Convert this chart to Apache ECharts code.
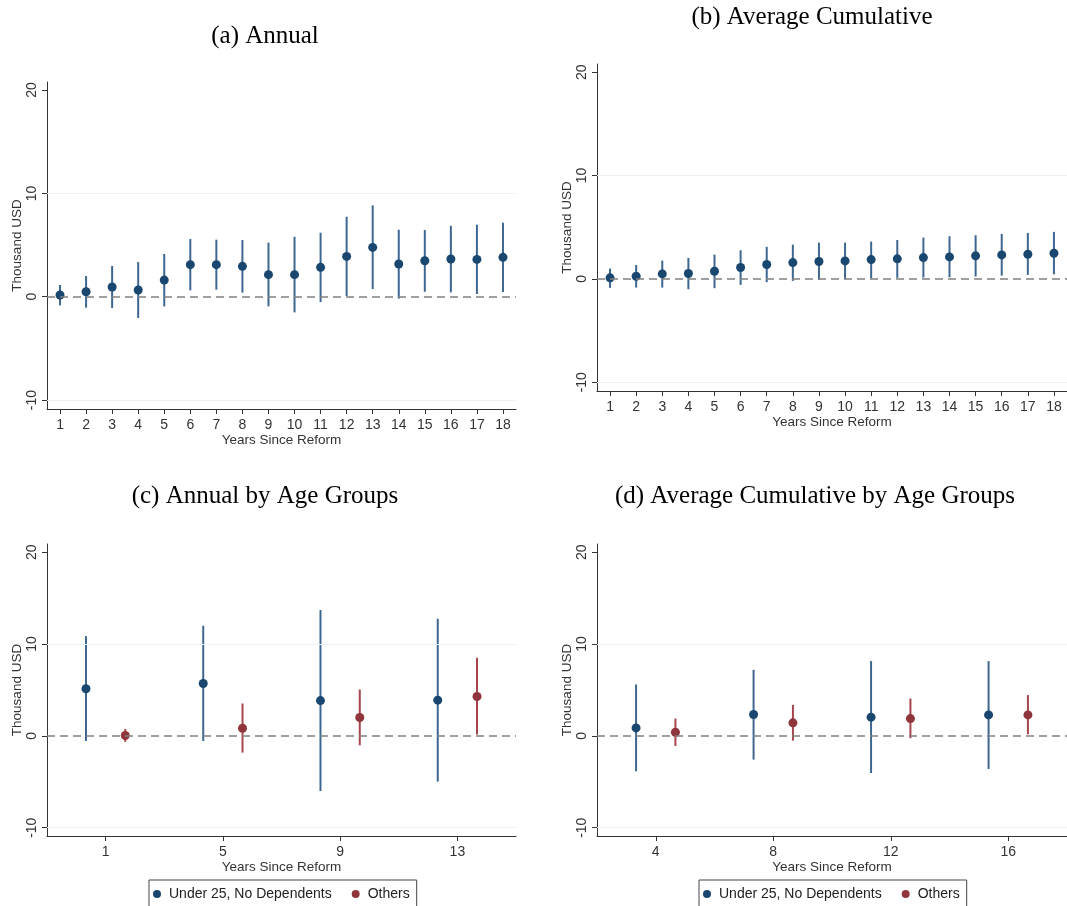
<!DOCTYPE html>
<html><head><meta charset="utf-8">
<script src="https://cdn.jsdelivr.net/npm/echarts@6/dist/echarts.min.js"></script>
<style>html,body{margin:0;padding:0;background:#fff}#chart{width:1067px;height:906px}</style>
</head><body><div id="chart"></div>
<script>
// ---- data ----
const yearsAll = [1,2,3,4,5,6,7,8,9,10,11,12,13,14,15,16,17,18];
const annualEst = [0.16,0.48,0.94,0.65,1.61,3.10,3.10,2.94,2.13,2.13,2.84,3.90,4.77,3.16,3.48,3.65,3.61,3.81];
const annualLo  = [-0.84,-1.06,-1.10,-2.06,-0.94,0.61,0.68,0.39,-0.94,-1.52,-0.52,0.06,0.74,-0.19,0.48,0.42,0.26,0.45];
const annualHi  = [1.13,2.00,2.97,3.35,4.13,5.58,5.52,5.48,5.23,5.80,6.19,7.74,8.84,6.48,6.45,6.87,6.97,7.16];
const cumEst = [0.10,0.26,0.48,0.52,0.74,1.10,1.39,1.58,1.68,1.74,1.87,1.94,2.06,2.13,2.23,2.32,2.39,2.48];
const cumLo  = [-0.87,-0.84,-0.84,-1.00,-0.90,-0.58,-0.32,-0.19,-0.10,-0.03,0.06,0.10,0.13,0.16,0.23,0.32,0.39,0.45];
const cumHi  = [1.00,1.35,1.77,2.03,2.35,2.77,3.10,3.32,3.52,3.52,3.61,3.77,4.00,4.13,4.23,4.35,4.45,4.55];

const annualGroupYears = [1,5,9,13];
const under25AnnualEst = [5.13,5.71,3.85,3.89];
const under25AnnualLo  = [-0.55,-0.55,-6.00,-4.98];
const under25AnnualHi  = [10.87,12.00,13.71,12.76];
const othersAnnualEst  = [0.04,0.84,2.00,4.29];
const othersAnnualLo   = [-0.65,-1.82,-1.02,0.15];
const othersAnnualHi   = [0.76,3.53,5.05,8.51];

const cumGroupYears = [4,8,12,16];
const under25CumEst = [0.87,2.33,2.04,2.29];
const under25CumLo  = [-3.85,-2.58,-4.04,-3.60];
const under25CumHi  = [5.60,7.20,8.15,8.15];
const othersCumEst  = [0.40,1.42,1.89,2.29];
const othersCumLo   = [-1.09,-0.51,-0.25,0.18];
const othersCumHi   = [1.89,3.38,4.07,4.44];

const yTicks = [-10,0,10,20];
const groupNames = ['Under 25, No Dependents','Others'];
const panelTitles = ['(a) Annual','(b) Average Cumulative','(c) Annual by Age Groups','(d) Average Cumulative by Age Groups'];
const xTitle = 'Years Since Reform';
const yTitle = 'Thousand USD';

// ---- styling ----
const BLUE = '#1a476f', BLUE_CI = '#3d6791';
const RED = '#90353b', RED_CI = '#a8454c';
const SANS = 'Liberation Sans, Arial, sans-serif';
const SERIF = 'Liberation Serif, Times New Roman, serif';
const GROUP_SHIFT = 0.67;

const grids = [
  {left:47, top:82, width:469, height:327},
  {left:597, top:64, width:470, height:327},
  {left:47, top:544, width:469, height:292},
  {left:597, top:544, width:470, height:292}
];
const xRanges = [[0.5,18.5],[0.5,18.5],[-1,15],[2,18]];
const yRanges = [[-10.87,20.78],[-10.85,20.8],[-10.9,20.9],[-10.9,20.9]];
const xTicks = [yearsAll, yearsAll, annualGroupYears, cumGroupYears];

function zip(xs, lo, hi){ return xs.map((x,i)=>[x, lo[i], hi[i]]); }
function pts(xs, est, shift){ return xs.map((x,i)=>[x+shift, est[i]]); }

function ciRender(color, width){
  return function(params, api){
    const x = api.value(0);
    const a = api.coord([x, api.value(1)]);
    const b = api.coord([x, api.value(2)]);
    return {type:'line', shape:{x1:a[0], y1:a[1], x2:b[0], y2:b[1]}, style:{stroke:color, lineWidth:width}};
  };
}

const refLines = {
  silent:true, symbol:'none', label:{show:false}, animation:false,
  data:[
    {yAxis:-10, lineStyle:{color:'#eef0f3', width:1, type:'solid'}},
    {yAxis:10, lineStyle:{color:'#eef0f3', width:1, type:'solid'}},
    {yAxis:0, lineStyle:{color:'#808080', width:1.6, type:[8,5]}}
  ]
};

const xAxes = grids.map((g,i)=>({
  type:'value', gridIndex:i, min:xRanges[i][0], max:xRanges[i][1],
  axisLine:{show:true, onZero:false, lineStyle:{color:'#333', width:1}},
  axisTick:{show:true, length:5, customValues:xTicks[i], lineStyle:{color:'#333'}},
  axisLabel:{customValues:xTicks[i], margin:9, fontFamily:SANS, fontSize:14, color:'#333'},
  splitLine:{show:false},
  name:xTitle, nameLocation:'middle', nameGap:24,
  nameTextStyle:{fontFamily:SANS, fontSize:13.5, color:'#333'}
}));
const yAxes = grids.map((g,i)=>({
  type:'value', gridIndex:i, min:yRanges[i][0], max:yRanges[i][1],
  axisLine:{show:true, onZero:false, lineStyle:{color:'#333', width:1}},
  axisTick:{show:true, length:5, customValues:yTicks, lineStyle:{color:'#333'}},
  axisLabel:{customValues:yTicks, rotate:90, margin:8, fontFamily:SANS, fontSize:14, color:'#333'},
  splitLine:{show:false},
  name:yTitle, nameLocation:'middle', nameGap:23,
  nameTextStyle:{fontFamily:SANS, fontSize:13.5, color:'#333'}
}));

function ciSeries(idx, name, data, color, width, withRef){
  const s = {type:'custom', name:name, xAxisIndex:idx, yAxisIndex:idx, z:2,
    renderItem:ciRender(color, width), encode:{x:0, y:[1,2]}, data:data, silent:true};
  if (withRef) s.markLine = refLines;
  return s;
}
function ptSeries(idx, name, data, color, size){
  return {type:'scatter', name:name, xAxisIndex:idx, yAxisIndex:idx, z:3,
    symbol:'circle', symbolSize:size, itemStyle:{color:color, opacity:1}, data:data, silent:true};
}

const series = [
  ciSeries(0,'ci_a', zip(yearsAll, annualLo, annualHi), BLUE_CI, 2, true),
  ptSeries(0,'Annual', pts(yearsAll, annualEst, 0), BLUE, 9),
  ciSeries(1,'ci_b', zip(yearsAll, cumLo, cumHi), BLUE_CI, 2, true),
  ptSeries(1,'Average Cumulative', pts(yearsAll, cumEst, 0), BLUE, 9),

  ciSeries(2,'ci_c_u', zip(annualGroupYears.map(x=>x-GROUP_SHIFT), under25AnnualLo, under25AnnualHi), BLUE_CI, 2, true),
  ciSeries(2,'ci_c_o', zip(annualGroupYears.map(x=>x+GROUP_SHIFT), othersAnnualLo, othersAnnualHi), RED_CI, 2, false),
  ptSeries(2, groupNames[0], pts(annualGroupYears, under25AnnualEst, -GROUP_SHIFT), BLUE, 9),
  ptSeries(2, groupNames[1], pts(annualGroupYears, othersAnnualEst, GROUP_SHIFT), RED, 9),

  ciSeries(3,'ci_d_u', zip(cumGroupYears.map(x=>x-GROUP_SHIFT), under25CumLo, under25CumHi), BLUE_CI, 2, true),
  ciSeries(3,'ci_d_o', zip(cumGroupYears.map(x=>x+GROUP_SHIFT), othersCumLo, othersCumHi), RED_CI, 2, false),
  ptSeries(3, groupNames[0], pts(cumGroupYears, under25CumEst, -GROUP_SHIFT), BLUE, 9),
  ptSeries(3, groupNames[1], pts(cumGroupYears, othersCumEst, GROUP_SHIFT), RED, 9)
];

function legendAt(left){
  return {
    left:left, top:880, orient:'horizontal', data:groupNames,
    icon:'circle', itemWidth:8, itemHeight:8, itemGap:20,
    borderColor:'#444', borderWidth:1, padding:[7,7,12,4],
    selectedMode:false,
    textStyle:{fontFamily:SANS, fontSize:14, color:'#222', padding:[0,0,0,3]}
  };
}

const titlePos = [[265,36],[812,17],[265,496],[815,496]];
const graphic = panelTitles.map((t,i)=>({
  type:'text', x:titlePos[i][0], y:titlePos[i][1], silent:true,
  style:{text:t, fill:'#000', font:'25px ' + SERIF, textAlign:'center', textVerticalAlign:'middle'}
}));

const chart = echarts.init(document.getElementById('chart'), null, {renderer:'canvas'});
chart.setOption({
  animation:false,
  backgroundColor:'#fff',
  grid:grids,
  xAxis:xAxes,
  yAxis:yAxes,
  legend:[legendAt(149), legendAt(699)],
  graphic:graphic,
  series:series
});
</script></body></html>
